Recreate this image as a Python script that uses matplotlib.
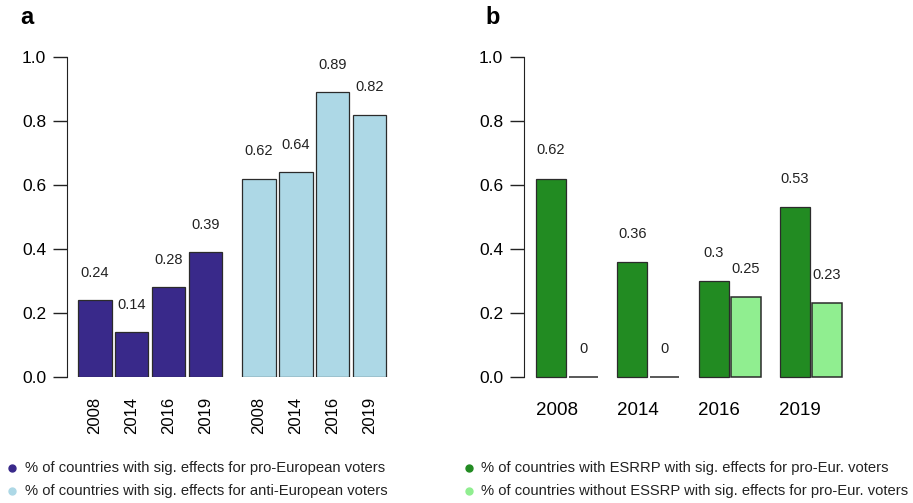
import matplotlib.pyplot as plt
from matplotlib.lines import Line2D

# panel a: share of countries with significant effects
years = ['2008', '2014', '2016', '2019']
pro_eu = [0.24, 0.14, 0.28, 0.39]
anti_eu = [0.62, 0.64, 0.89, 0.82]

# panel b: countries with / without ESRRP, pro-European voters
with_esrrp = [0.62, 0.36, 0.30, 0.53]
without_essrp = [0.0, 0.0, 0.25, 0.23]

legend_a = ['% of countries with sig. effects for pro-European voters',
            '% of countries with sig. effects for anti-European voters']
legend_b = ['% of countries with ESRRP with sig. effects for pro-Eur. voters',
            '% of countries without ESSRP with sig. effects for pro-Eur. voters']

col_pro = '#39298A'
col_anti = '#ADD8E6'
col_with = '#228B22'
col_without = '#90EE90'
edge = '#2b2b2b'

plt.rcParams['font.family'] = ['Liberation Sans', 'DejaVu Sans']

W, H = 913, 503
fig = plt.figure(figsize=(W / 100, H / 100), dpi=100)


def px_axes(x0, x1, y0, y1):
    # axes box given in pixel coordinates (top-left origin)
    return fig.add_axes([x0 / W, 1 - y1 / H, (x1 - x0) / W, (y1 - y0) / H])


def style_y(ax):
    ax.set_ylim(0, 1.0)
    ax.set_yticks([0, 0.2, 0.4, 0.6, 0.8, 1.0])
    ax.set_yticklabels(['0.0', '0.2', '0.4', '0.6', '0.8', '1.0'])
    for s in ['top', 'right', 'bottom']:
        ax.spines[s].set_visible(False)
    ax.spines['left'].set_bounds(0, 1.0)
    ax.spines['left'].set_color('#222222')
    ax.tick_params(axis='y', length=10, width=1, pad=5, labelsize=12.5,
                   color='#222222')
    ax.patch.set_alpha(0)


# ---- panel a ----
unit_a = 33.5
xmin_a, xmax_a = -0.23, 9.6
ax1 = px_axes(67, 67 + (xmax_a - xmin_a) * unit_a, 57, 377)
style_y(ax1)
ax1.set_xlim(xmin_a, xmax_a)
xa1 = [0.6 + 1.1 * i for i in range(4)]
xa2 = [5.5 + 1.1 * i for i in range(4)]
ax1.bar(xa1, pro_eu, width=1.0, color=col_pro, edgecolor=edge, linewidth=0.9)
ax1.bar(xa2, anti_eu, width=1.0, color=col_anti, edgecolor=edge, linewidth=0.9)
for x, v in zip(xa1 + xa2, pro_eu + anti_eu):
    ax1.text(x, v + 0.086, f'{v:g}', ha='center', va='center', fontsize=10.5,
             color='#222222')
ax1.set_xticks(xa1 + xa2)
ax1.set_xticklabels(years + years, rotation=90, fontsize=12)
ax1.tick_params(axis='x', length=0, pad=14)

# ---- panel b ----
unit_b = 30.1
xmin_b, xmax_b = 0.0, 11.0
ax2 = px_axes(524, 524 + (xmax_b - xmin_b) * unit_b, 57, 377)
style_y(ax2)
ax2.set_xlim(xmin_b, xmax_b)
groups = [0.4 + 2.7 * i for i in range(4)]
xb1 = [g + 0.5 for g in groups]
xb2 = [g + 1.57 for g in groups]
ax2.bar(xb1, with_esrrp, width=1.0, color=col_with, edgecolor=edge,
        linewidth=0.9, clip_on=False)
ax2.bar(xb2, without_essrp, width=0.98, color=col_without, edgecolor=edge,
        linewidth=1.1, clip_on=False)
for x, v in zip(xb1 + xb2, with_esrrp + without_essrp):
    ax2.text(x, v + 0.088, f'{v:g}', ha='center', va='center', fontsize=10.5,
             color='#222222')
ax2.set_xticks([g + 0.68 for g in groups])
ax2.set_xticklabels(years, fontsize=13.5)
ax2.tick_params(axis='x', length=0, pad=18)

# panel letters
fig.text(20 / W, 1 - 18 / H, 'a', fontsize=17, fontweight='bold', va='center')
fig.text(485 / W, 1 - 18 / H, 'b', fontsize=17, fontweight='bold', va='center')

# legends below the panels
narrow = ['Liberation Sans Narrow', 'Liberation Sans', 'DejaVu Sans']


def add_legend(labels, colors, x_dot, x_text):
    for lab, c, y in zip(labels, colors, [468, 491]):
        fig.add_artist(Line2D([x_dot / W], [1 - y / H], marker='o', markersize=5,
                              color=c, transform=fig.transFigure))
        fig.text(x_text / W, 1 - y / H, lab, fontsize=10.6, family=narrow,
                 va='center', ha='left', color='#222222')


add_legend(legend_a, [col_pro, col_anti], 12, 25)
add_legend(legend_b, [col_with, col_without], 469, 481)

fig.savefig('out.png', dpi=100)
